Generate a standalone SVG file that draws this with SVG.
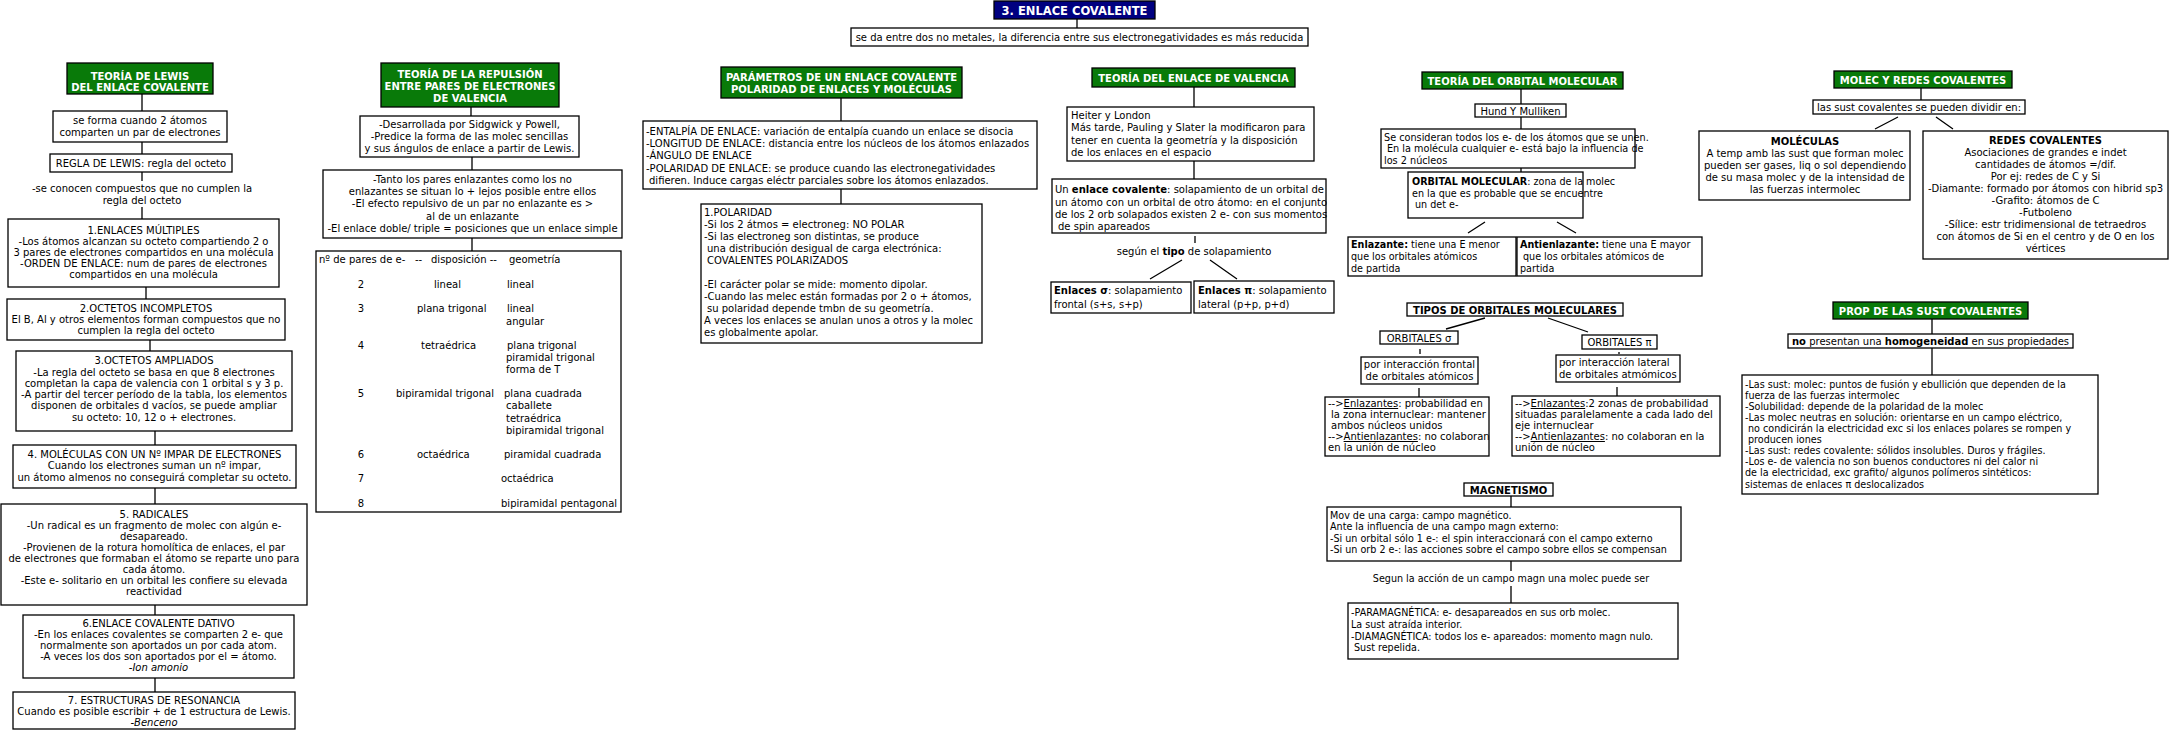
<svg xmlns="http://www.w3.org/2000/svg" width="2172" height="736" viewBox="0 0 2172 736">
<style>
text{font-family:"DejaVu Sans",Verdana,sans-serif;font-size:10px;fill:#000}
.m{text-anchor:middle}
.hd{font-weight:bold;fill:#fff;text-anchor:middle}
.hk{font-weight:bold;text-anchor:middle}
.bx{fill:#fff;stroke:#000;stroke-width:1.3}
.gh{fill:#097a09;stroke:#000;stroke-width:1.3}
.ln{stroke:#000;stroke-width:1.3;fill:none}
.bo{font-weight:bold}
.it{font-style:italic}
.u{text-decoration:underline}
.s{font-size:9.6px}
.r{font-size:9.7px}
</style>
<rect width="2172" height="736" fill="#fff"/>

<g id="connectors">
<path class="ln" d="M1077 19V28"/>
<path class="ln" d="M142 94V111M142 142V154M142 172V181M142 207V219M146 287V299M150 340V351M155 431V445M155 488V504M155 605V615M155 678V692"/>
<path class="ln" d="M471 107V116M472 157V170M472 238V251"/>
<path class="ln" d="M841 98V121M841 189V204"/>
<path class="ln" d="M1194 87V107M1194 161V179M1195 236V243M1182 260L1150 279M1210 260L1237 279"/>
<path class="ln" d="M1521 89V104M1521 117V129M1521 168V172M1485 222L1468 233M1557 222L1576 233"/>
<path class="ln" d="M1485 318L1446 329M1548 318L1588 332M1420 349V354M1619 352V354M1419 388V397M1617 387V396"/>
<path class="ln" d="M1511 496V507M1511 561V571M1511 586V603"/>
<path class="ln" d="M1921 88V100M1898 117L1875 129M1936 117L1953 129"/>
<path class="ln" d="M1932 319V334M1932 348V375"/>
</g>

<g id="title">
<rect x="994" y="1" width="161" height="18" fill="#000080" stroke="#000" stroke-width="1.3"/>
<text class="hd" x="1074.5" y="15" style="font-size:11.5px">3. ENLACE COVALENTE</text>
</g>
<g id="subtitle">
<rect class="bx" x="851" y="28" width="457" height="18"/>
<text class="m" x="1079.5" y="41">se da entre dos no metales, la diferencia entre sus electronegatividades es más reducida</text>
</g>

<!-- Lewis column -->
<g id="lewis-header">
<rect class="gh" x="67" y="63" width="146" height="31"/>
<text class="hd" x="140" y="80">TEORÍA DE LEWIS</text>
<text class="hd" x="140" y="91">DEL ENLACE COVALENTE</text>
</g>
<g id="lewis-forma">
<rect class="bx" x="53" y="111" width="174" height="31"/>
<text class="m" x="140" y="124">se forma cuando 2 átomos</text>
<text class="m" x="140" y="136">comparten un par de electrones</text>
</g>
<g id="lewis-regla">
<rect class="bx" x="50" y="154" width="182" height="18"/>
<text class="m" x="141" y="167">REGLA DE LEWIS: regla del octeto</text>
</g>
<g id="lewis-excepciones">
<text class="m" x="142" y="192">-se conocen compuestos que no cumplen la</text>
<text class="m" x="142" y="204">regla del octeto</text>
</g>
<g id="lewis-1">
<rect class="bx" x="8" y="219" width="271" height="68"/>
<text class="m" x="143.5" y="234">1.ENLACES MÚLTIPLES</text>
<text class="m" x="143.5" y="245">-Los átomos alcanzan su octeto compartiendo 2 o</text>
<text class="m" x="143.5" y="256">3 pares de electrones compartidos en una molécula</text>
<text class="m" x="143.5" y="267">-ORDEN DE ENLACE: num de pares de electrones</text>
<text class="m" x="143.5" y="278">compartidos en una molécula</text>
</g>
<g id="lewis-2">
<rect class="bx" x="7" y="299" width="278" height="41"/>
<text class="m" x="146" y="312">2.OCTETOS INCOMPLETOS</text>
<text class="m" x="146" y="323">El B, Al y otros elementos forman compuestos que no</text>
<text class="m" x="146" y="334">cumplen la regla del octeto</text>
</g>
<g id="lewis-3">
<rect class="bx" x="16" y="351" width="276" height="80"/>
<text class="m" x="154" y="364">3.OCTETOS AMPLIADOS</text>
<text class="m" x="154" y="376">-La regla del octeto se basa en que 8 electrones</text>
<text class="m" x="154" y="387">completan la capa de valencia con 1 orbital s y 3 p.</text>
<text class="m" x="154" y="398">-A partir del tercer período de la tabla, los elementos</text>
<text class="m" x="154" y="409">disponen de orbitales d vacíos, se puede ampliar</text>
<text class="m" x="154" y="421">su octeto: 10, 12 o + electrones.</text>
</g>
<g id="lewis-4">
<rect class="bx" x="13" y="445" width="283" height="43"/>
<text class="m" x="154.5" y="458">4. MOLÉCULAS CON UN Nº IMPAR DE ELECTRONES</text>
<text class="m" x="154.5" y="469">Cuando los electrones suman un nº impar,</text>
<text class="m" x="154.5" y="481">un átomo almenos no conseguirá completar su octeto.</text>
</g>
<g id="lewis-5">
<rect class="bx" x="1" y="504" width="306" height="101"/>
<text class="m" x="154" y="518">5. RADICALES</text>
<text class="m" x="154" y="529">-Un radical es un fragmento de molec con algún e-</text>
<text class="m" x="154" y="540">desapareado.</text>
<text class="m" x="154" y="551">-Provienen de la rotura homolítica de enlaces, el par</text>
<text class="m" x="154" y="562">de electrones que formaban el átomo se reparte uno para</text>
<text class="m" x="154" y="573">cada átomo.</text>
<text class="m" x="154" y="584">-Este e- solitario en un orbital les confiere su elevada</text>
<text class="m" x="154" y="595">reactividad</text>
</g>
<g id="lewis-6">
<rect class="bx" x="23" y="615" width="271" height="63"/>
<text class="m" x="158.5" y="627">6.ENLACE COVALENTE DATIVO</text>
<text class="m" x="158.5" y="638">-En los enlaces covalentes se comparten 2 e- que</text>
<text class="m" x="158.5" y="649">normalmente son aportados un por cada atom.</text>
<text class="m" x="158.5" y="660">-A veces los dos son aportados por el = átomo.</text>
<text class="m it" x="158.5" y="671">-Ion amonio</text>
</g>
<g id="lewis-7">
<rect class="bx" x="13" y="692" width="282" height="37"/>
<text class="m" x="154" y="704">7. ESTRUCTURAS DE RESONANCIA</text>
<text class="m" x="154" y="715">Cuando es posible escribir + de 1 estructura de Lewis.</text>
<text class="m it" x="154" y="726">-Benceno</text>
</g>

<!-- Repulsion column -->
<g id="trepev-header">
<rect class="gh" x="381" y="63" width="178" height="44"/>
<text class="hd" x="470" y="78">TEORÍA DE LA REPULSIÓN</text>
<text class="hd" x="470" y="90">ENTRE PARES DE ELECTRONES</text>
<text class="hd" x="470" y="102">DE VALENCIA</text>
</g>
<g id="trepev-a">
<rect class="bx" x="360" y="116" width="219" height="41"/>
<text class="m" x="469.5" y="128">-Desarrollada por Sidgwick y Powell,</text>
<text class="m" x="469.5" y="140">-Predice la forma de las molec sencillas</text>
<text class="m" x="469.5" y="152">y sus ángulos de enlace a partir de Lewis.</text>
</g>
<g id="trepev-b">
<rect class="bx" x="323" y="170" width="299" height="68"/>
<text class="m" x="472.5" y="183">-Tanto los pares enlazantes como los no</text>
<text class="m" x="472.5" y="195">enlazantes se situan lo + lejos posible entre ellos</text>
<text class="m" x="472.5" y="207">-El efecto repulsivo de un par no enlazante es &gt;</text>
<text class="m" x="472.5" y="220">al de un enlazante</text>
<text class="m" x="472.5" y="232">-El enlace doble/ triple = posiciones que un enlace simple</text>
</g>
<g id="trepev-tabla">
<rect class="bx" x="316" y="251" width="305" height="261"/>
<text x="319" y="263">nº de pares de e-</text>
<text x="415" y="263">--</text>
<text x="431" y="263">disposición --</text>
<text x="509" y="263">geometría</text>
<text class="m" x="361" y="288">2</text>
<text x="434" y="288">lineal</text>
<text x="507" y="288">lineal</text>
<text class="m" x="361" y="312">3</text>
<text x="417" y="312">plana trigonal</text>
<text x="507" y="312">lineal</text>
<text x="506" y="325">angular</text>
<text class="m" x="361" y="349">4</text>
<text x="421" y="349">tetraédrica</text>
<text x="507" y="349">plana trigonal</text>
<text x="506" y="361">piramidal trigonal</text>
<text x="506" y="373">forma de T</text>
<text class="m" x="361" y="397">5</text>
<text x="396" y="397">bipiramidal trigonal</text>
<text x="504" y="397">plana cuadrada</text>
<text x="506" y="409">caballete</text>
<text x="506" y="422">tetraédrica</text>
<text x="506" y="434">bipiramidal trigonal</text>
<text class="m" x="361" y="458">6</text>
<text x="417" y="458">octaédrica</text>
<text x="504" y="458">piramidal cuadrada</text>
<text class="m" x="361" y="482">7</text>
<text x="501" y="482">octaédrica</text>
<text class="m" x="361" y="507">8</text>
<text x="501" y="507">bipiramidal pentagonal</text>
</g>

<!-- Parameters column -->
<g id="param-header">
<rect class="gh" x="721" y="67" width="241" height="31"/>
<text class="hd" x="841.5" y="81">PARÁMETROS DE UN ENLACE COVALENTE</text>
<text class="hd" x="841.5" y="93">POLARIDAD DE ENLACES Y MOLÉCULAS</text>
</g>
<g id="param-lista">
<rect class="bx" x="643" y="121" width="394" height="68"/>
<text x="646" y="135">-ENTALPÍA DE ENLACE: variación de entalpía cuando un enlace se disocia</text>
<text x="646" y="147">-LONGITUD DE ENLACE: distancia entre los núcleos de los átomos enlazados</text>
<text x="646" y="159">-ÁNGULO DE ENLACE</text>
<text x="646" y="172">-POLARIDAD DE ENLACE: se produce cuando las electronegatividades</text>
<text x="649" y="184">difieren. Induce cargas eléctr parciales sobre los átomos enlazados.</text>
</g>
<g id="param-polaridad">
<rect class="bx" x="701" y="204" width="281" height="139"/>
<text x="704" y="216">1.POLARIDAD</text>
<text x="704" y="228">-Si los 2 átmos = electroneg: NO POLAR</text>
<text x="704" y="240">-Si las electroneg son distintas, se produce</text>
<text x="707" y="252">una distribución desigual de carga electrónica:</text>
<text x="707" y="264">COVALENTES POLARIZADOS</text>
<text x="704" y="288">-El carácter polar se mide: momento dipolar.</text>
<text x="704" y="300">-Cuando las melec están formadas por 2 o + átomos,</text>
<text x="707" y="312">su polaridad depende tmbn de su geometría.</text>
<text x="704" y="324">A veces los enlaces se anulan unos a otros y la molec</text>
<text x="704" y="336">es globalmente apolar.</text>
</g>

<!-- Valence bond column -->
<g id="tev-header">
<rect class="gh" x="1092" y="68" width="203" height="19"/>
<text class="hd" x="1193.5" y="81.5">TEORÍA DEL ENLACE DE VALENCIA</text>
</g>
<g id="tev-heiter">
<rect class="bx" x="1067" y="107" width="247" height="54"/>
<text x="1071" y="119">Heiter y London</text>
<text x="1071" y="131">Más tarde, Pauling y Slater la modificaron para</text>
<text x="1071" y="144">tener en cuenta la geometría y la disposición</text>
<text x="1071" y="156">de los enlaces en el espacio</text>
</g>
<g id="tev-enlace">
<rect class="bx" x="1052" y="179" width="274" height="54"/>
<text x="1055" y="193">Un <tspan class="bo">enlace covalente</tspan>: solapamiento de un orbital de</text>
<text x="1055" y="206">un átomo con un orbital de otro átomo: en el conjunto</text>
<text x="1055" y="218">de los 2 orb solapados existen 2 e- con sus momentos</text>
<text x="1058" y="230">de spin apareados</text>
</g>
<g id="tev-tipo">
<text class="m" x="1194" y="255">según el <tspan class="bo">tipo</tspan> de solapamiento</text>
</g>
<g id="tev-sigma">
<rect class="bx" x="1051" y="282" width="140" height="31"/>
<text x="1054" y="294"><tspan class="bo">Enlaces σ</tspan>: solapamiento</text>
<text x="1054" y="308">frontal (s+s, s+p)</text>
</g>
<g id="tev-pi">
<rect class="bx" x="1194" y="281" width="140" height="32"/>
<text x="1198" y="294"><tspan class="bo">Enlaces π</tspan>: solapamiento</text>
<text x="1198" y="308">lateral (p+p, p+d)</text>
</g>

<!-- Molecular orbital column -->
<g id="tom-header">
<rect class="gh" x="1422" y="72" width="201" height="17"/>
<text class="hd" x="1522.5" y="84.5">TEORÍA DEL ORBITAL MOLECULAR</text>
</g>
<g id="tom-hund">
<rect class="bx" x="1475" y="104" width="91" height="13"/>
<text class="m" x="1520.5" y="114.5">Hund Y Mulliken</text>
</g>
<g id="tom-considera">
<rect class="bx" x="1381" y="129" width="254" height="39"/>
<text class="r" x="1384" y="141">Se consideran todos los e- de los átomos que se unen.</text>
<text class="r" x="1387" y="152">En la molécula cualquier e- está bajo la influencia de</text>
<text class="r" x="1384" y="164">los 2 núcleos</text>
</g>
<g id="tom-om">
<rect class="bx" x="1408" y="172" width="175" height="46"/>
<text class="s" x="1412" y="185"><tspan class="bo">ORBITAL MOLECULAR</tspan>: zona de la molec</text>
<text class="s" x="1412" y="197">en la que es probable que se encuentre</text>
<text class="s" x="1415" y="208">un det e-</text>
</g>
<g id="tom-enlazante">
<rect class="bx" x="1348" y="237" width="168" height="39"/>
<text class="s" x="1351" y="248"><tspan class="bo">Enlazante:</tspan> tiene una E menor</text>
<text class="s" x="1351" y="260">que los orbitales atómicos</text>
<text class="s" x="1351" y="272">de partida</text>
</g>
<g id="tom-antienlazante">
<rect class="bx" x="1517" y="237" width="185" height="39"/>
<text class="s" x="1520" y="248"><tspan class="bo">Antienlazante:</tspan> tiene una E mayor</text>
<text class="s" x="1523" y="260">que los orbitales atómicos de</text>
<text class="s" x="1520" y="272">partida</text>
</g>
<g id="tom-tipos">
<rect class="bx" x="1407" y="303" width="216" height="13"/>
<text class="hk" x="1515" y="313.5">TIPOS DE ORBITALES MOLECULARES</text>
</g>
<g id="tom-orb-sigma">
<rect class="bx" x="1380" y="331" width="78" height="13"/>
<text class="m" x="1419" y="341.5">ORBITALES σ</text>
</g>
<g id="tom-orb-pi">
<rect class="bx" x="1582" y="335" width="75" height="14"/>
<text class="m" x="1619.5" y="346">ORBITALES π</text>
</g>
<g id="tom-frontal">
<rect class="bx" x="1361" y="357" width="117" height="27"/>
<text class="m" x="1419.5" y="368">por interacción frontal</text>
<text class="m" x="1419.5" y="380">de orbitales atómicos</text>
</g>
<g id="tom-lateral">
<rect class="bx" x="1556" y="355" width="124" height="27"/>
<text x="1559" y="366">por interacción lateral</text>
<text x="1559" y="378">de orbitales atmómicos</text>
</g>
<g id="tom-sigma-det">
<rect class="bx" x="1325" y="397" width="164" height="59"/>
<text x="1328" y="407">--&gt;<tspan class="u">Enlazantes</tspan>: probabilidad en</text>
<text x="1331" y="418">la zona internuclear: mantener</text>
<text x="1331" y="429">ambos núcleos unidos</text>
<text x="1328" y="440">--&gt;<tspan class="u">Antienlazantes</tspan>: no colaboran</text>
<text x="1328" y="451">en la unión de núcleo</text>
</g>
<g id="tom-pi-det">
<rect class="bx" x="1512" y="396" width="208" height="60"/>
<text x="1515" y="407">--&gt;<tspan class="u">Enlazantes</tspan>:2 zonas de probabilidad</text>
<text x="1515" y="418">situadas paralelamente a cada lado del</text>
<text x="1515" y="429">eje internuclear</text>
<text x="1515" y="440">--&gt;<tspan class="u">Antienlazantes</tspan>: no colaboran en la</text>
<text x="1515" y="451">unión de núcleo</text>
</g>

<!-- Magnetism -->
<g id="mag-header">
<rect class="bx" x="1464" y="483" width="89" height="13"/>
<text class="hk" x="1508.5" y="493.5">MAGNETISMO</text>
</g>
<g id="mag-mov">
<rect class="bx" x="1327" y="507" width="354" height="54"/>
<text class="s" x="1330" y="519">Mov de una carga: campo magnético.</text>
<text class="s" x="1330" y="530">Ante la influencia de una campo magn externo:</text>
<text class="s" x="1330" y="542">-Si un orbital sólo 1 e-: el spin interaccionará con el campo externo</text>
<text class="s" x="1330" y="553">-Si un orb 2 e-: las acciones sobre el campo sobre ellos se compensan</text>
</g>
<g id="mag-segun">
<text class="m s" x="1511" y="582">Segun la acción de un campo magn una molec puede ser</text>
</g>
<g id="mag-tipos">
<rect class="bx" x="1348" y="603" width="330" height="56"/>
<text class="s" x="1351" y="616">-PARAMAGNÉTICA: e- desapareados en sus orb molec.</text>
<text class="s" x="1351" y="628">La sust atraída interior.</text>
<text class="s" x="1351" y="640">-DIAMAGNÉTICA: todos los e- apareados: momento magn nulo.</text>
<text class="s" x="1354" y="651">Sust repelida.</text>
</g>

<!-- Molec y redes -->
<g id="mr-header">
<rect class="gh" x="1834" y="71" width="178" height="17"/>
<text class="hd" x="1923" y="83.5">MOLEC Y REDES COVALENTES</text>
</g>
<g id="mr-dividir">
<rect class="bx" x="1813" y="100" width="212" height="14"/>
<text class="m" x="1919" y="111">las sust covalentes se pueden dividir en:</text>
</g>
<g id="mr-moleculas">
<rect class="bx" x="1699" y="131" width="211" height="69"/>
<text class="hk" x="1805" y="145">MOLÉCULAS</text>
<text class="m" x="1805" y="157">A temp amb las sust que forman molec</text>
<text class="m" x="1805" y="169">pueden ser gases, liq o sol dependiendo</text>
<text class="m" x="1805" y="181">de su masa molec y de la intensidad de</text>
<text class="m" x="1805" y="193">las fuerzas intermolec</text>
</g>
<g id="mr-redes">
<rect class="bx" x="1923" y="131" width="245" height="128"/>
<text class="hk" x="2045.5" y="144">REDES COVALENTES</text>
<text class="m" x="2045.5" y="156">Asociaciones de grandes e indet</text>
<text class="m" x="2045.5" y="168">cantidades de átomos =/dif.</text>
<text class="m" x="2045.5" y="180">Por ej: redes de C y Si</text>
<text class="m" x="2045.5" y="192">-Diamante: formado por átomos con hibrid sp3</text>
<text class="m" x="2045.5" y="204">-Grafito: átomos de C</text>
<text class="m" x="2045.5" y="216">-Futboleno</text>
<text class="m" x="2045.5" y="228">-Sílice: estr tridimensional de tetraedros</text>
<text class="m" x="2045.5" y="240">con átomos de Si en el centro y de O en los</text>
<text class="m" x="2045.5" y="252">vértices</text>
</g>

<!-- Propiedades -->
<g id="prop-header">
<rect class="gh" x="1833" y="302" width="195" height="17"/>
<text class="hd" x="1930.5" y="314.5">PROP DE LAS SUST COVALENTES</text>
</g>
<g id="prop-homog">
<rect class="bx" x="1788" y="334" width="285" height="14"/>
<text class="m" x="1930.5" y="345"><tspan class="bo">no</tspan> presentan una <tspan class="bo">homogeneidad</tspan> en sus propiedades</text>
</g>
<g id="prop-lista">
<rect class="bx" x="1742" y="375" width="356" height="119"/>
<text class="s" x="1745" y="388">-Las sust: molec: puntos de fusión y ebullición que dependen de la</text>
<text class="s" x="1745" y="399">fuerza de las fuerzas intermolec</text>
<text class="s" x="1745" y="410">-Solubilidad: depende de la polaridad de la molec</text>
<text class="s" x="1745" y="421">-Las molec neutras en solución: orientarse en un campo eléctrico,</text>
<text class="s" x="1748" y="432">no condicirán la electricidad exc si los enlaces polares se rompen y</text>
<text class="s" x="1748" y="443">producen iones</text>
<text class="s" x="1745" y="454">-Las sust: redes covalente: sólidos insolubles. Duros y frágiles.</text>
<text class="s" x="1745" y="465">-Los e- de valencia no son buenos conductores ni del calor ni</text>
<text class="s" x="1745" y="476">de la electricidad, exc grafito/ algunos polímeros sintéticos:</text>
<text class="s" x="1745" y="488">sistemas de enlaces π deslocalizados</text>
</g>
</svg>
